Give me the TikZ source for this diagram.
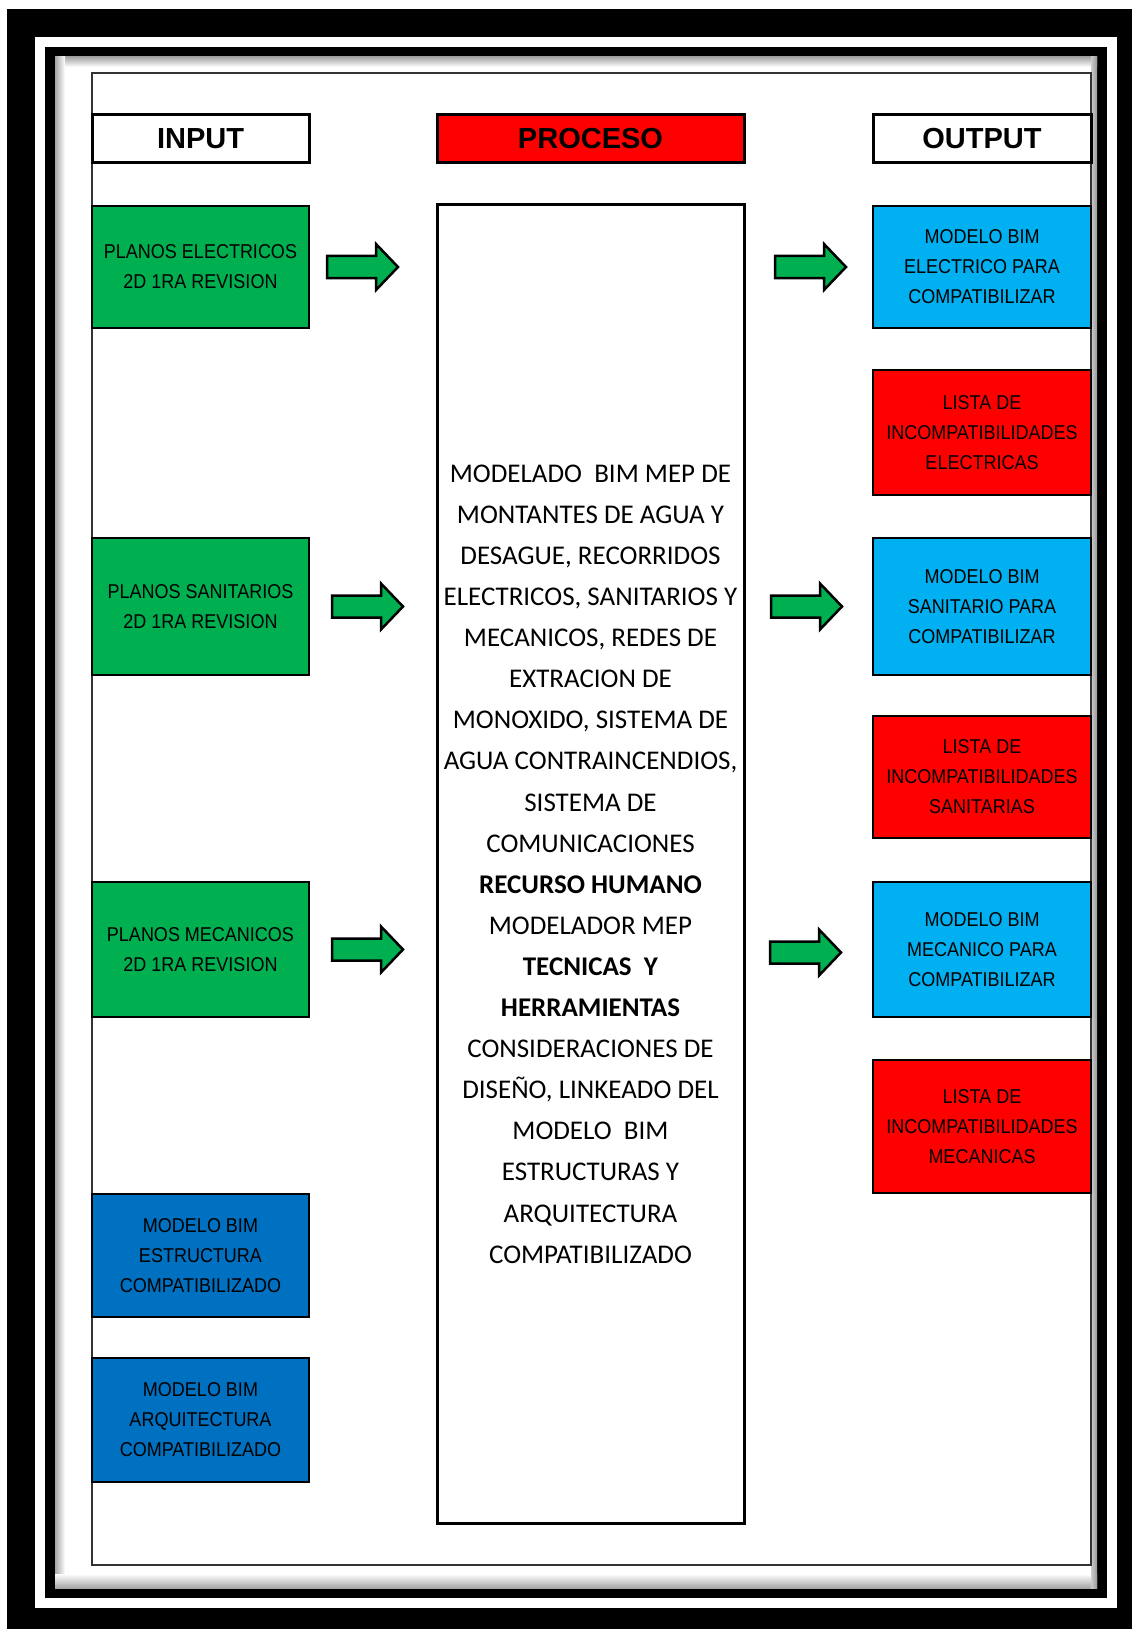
\documentclass[tikz,border=0pt]{standalone}
\usepackage{fontspec}
\setmainfont{Liberation Sans}
\newfontfamily\boxfont{Liberation Sans}[FakeStretch=0.9]
\newfontfamily\procfont{Carlito}
\usetikzlibrary{positioning}

\definecolor{ingreen}{HTML}{00B050}
\definecolor{outcyan}{HTML}{00B0F0}
\definecolor{inblue}{HTML}{0070C0}
\definecolor{listred}{HTML}{FF0000}

\begin{document}
\begin{tikzpicture}[x=1pt, y=-1pt,
  head/.style={draw, line width=3pt, minimum height=48pt, inner sep=0pt, font=\fontsize{29}{34}\selectfont\bfseries},
  cell/.style={draw, line width=2pt, inner sep=0pt, align=center, font=\boxfont\fontsize{20}{30}\selectfont},
  incell/.style={cell, minimum width=217pt},
  outcell/.style={cell, minimum width=218pt},
  greenarrow/.style={draw, line width=2.5pt, fill=ingreen, line join=miter}]

\useasboundingbox (0,0) rectangle (1132,1629);

% page frame
\fill[black] (7,9) rectangle (1132,1629);
\fill[white] (35,37) rectangle (1117,1608);
\fill[black] (45,47) rectangle (1107,1598);
\fill[white] (55,57) rectangle (1097,1588);
\shade[top color=gray!70, bottom color=white] (55,57) rectangle (1097,67);
\shade[left color=gray!70, right color=white] (55,57) rectangle (65,1588);
\shade[top color=white, bottom color=gray!70] (55,1574) rectangle (1097,1588);
\shade[left color=gray!40, right color=gray!80] (1091,57) rectangle (1097,1588);
\draw[line width=2pt, black!80] (92,73) rectangle (1091,1565);

% headers
\node[head, fill=white, minimum width=217pt] (input) at (200.5,139) {INPUT};
\node[head, fill=listred, minimum width=307pt] (proceso) at (590.5,139) {PROCESO};
\node[head, fill=white, minimum width=218pt] (output) at (982,139) {OUTPUT};

% input
\node[incell, fill=ingreen, minimum height=122pt] (planel) at (200.5,267) {PLANOS ELECTRICOS\\2D 1RA REVISION};
\node[incell, fill=ingreen, minimum height=137pt] (plansan) at (200.5,606.5) {PLANOS SANITARIOS\\2D 1RA REVISION};
\node[incell, fill=ingreen, minimum height=135pt] (planmec) at (200.5,949.5) {PLANOS MECANICOS\\2D 1RA REVISION};
\node[incell, fill=inblue, minimum height=123pt] (bimest) at (200.5,1255.5) {MODELO BIM\\ESTRUCTURA\\COMPATIBILIZADO};
\node[incell, fill=inblue, minimum height=124pt] (bimarq) at (200.5,1420) {MODELO BIM\\ARQUITECTURA\\COMPATIBILIZADO};

% proceso
\node[draw, line width=3pt, minimum width=307pt, minimum height=1318pt, inner sep=0pt, align=center,
  font=\procfont\fontsize{27}{41.1}\selectfont] (modelado) at (590.5,864)
  {MODELADO\ \ BIM MEP DE\\MONTANTES DE AGUA Y\\DESAGUE, RECORRIDOS\\ELECTRICOS, SANITARIOS Y\\
   MECANICOS, REDES DE\\EXTRACION DE\\MONOXIDO, SISTEMA DE\\AGUA CONTRAINCENDIOS,\\
   SISTEMA DE\\COMUNICACIONES\\\textbf{RECURSO HUMANO}\\MODELADOR MEP\\
   \textbf{TECNICAS\ \ Y}\\\textbf{HERRAMIENTAS}\\CONSIDERACIONES DE\\DISEÑO, LINKEADO DEL\\
   MODELO\ \ BIM\\ESTRUCTURAS Y\\ARQUITECTURA\\COMPATIBILIZADO};

% output
\node[outcell, fill=outcyan, minimum height=122pt] (bimel) at (982,267) {MODELO BIM\\ELECTRICO PARA\\COMPATIBILIZAR};
\node[outcell, fill=listred, minimum height=125pt] (listel) at (982,432.5) {LISTA DE\\INCOMPATIBILIDADES\\ELECTRICAS};
\node[outcell, fill=outcyan, minimum height=137pt] (bimsan) at (982,606.5) {MODELO BIM\\SANITARIO PARA\\COMPATIBILIZAR};
\node[outcell, fill=listred, minimum height=122pt] (listsan) at (982,777) {LISTA DE\\INCOMPATIBILIDADES\\SANITARIAS};
\node[outcell, fill=outcyan, minimum height=135pt] (bimmec) at (982,949.5) {MODELO BIM\\MECANICO PARA\\COMPATIBILIZAR};
\node[outcell, fill=listred, minimum height=133pt] (listmec) at (982,1126.5) {LISTA DE\\INCOMPATIBILIDADES\\MECANICAS};

% arrows
\coordinate[right=52pt of planel] (arrin1);
\coordinate[right=57pt of plansan] (arrin2);
\coordinate[right=57pt of planmec] (arrin3);
\coordinate[left=62pt of bimel] (arrout1);
\coordinate[left=66pt of bimsan] (arrout2);
\coordinate[left=67pt of bimmec, yshift=-3pt] (arrout3);
\foreach \c in {arrin1,arrin2,arrin3,arrout1,arrout2,arrout3}
  \draw[greenarrow, shift={(\c)}] (-35,-11) -- (14,-11) -- (14,-23) -- (36,0) -- (14,23) -- (14,11) -- (-35,11) -- cycle;

\end{tikzpicture}
\end{document}
